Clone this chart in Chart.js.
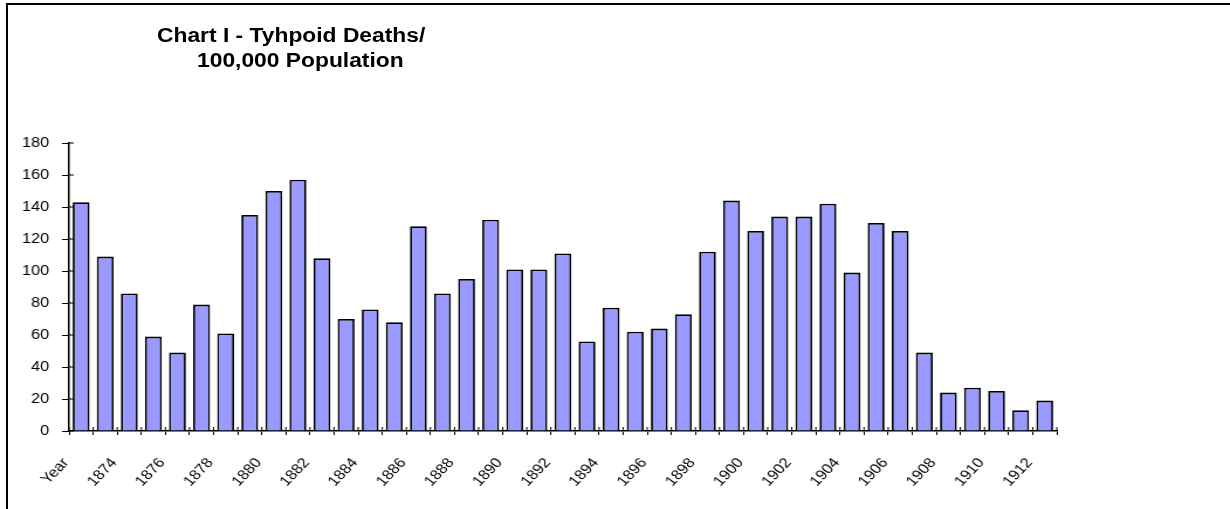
<!DOCTYPE html>
<html>
<head>
<meta charset="utf-8">
<script src="https://cdn.jsdelivr.net/npm/chart.js@4"></script>
<style>
  body { margin: 0; background: #fff; overflow: hidden; }
  #wrap { position: relative; width: 1230px; height: 509px; overflow: hidden; }
  /* the original picture is stretched sideways, so the chart is drawn narrow and widened */
  #stretch { position: absolute; left: 0; top: 0; width: 1051px; height: 509px;
             transform: scaleX(1.1703); transform-origin: 0 0; }
  #frame { position: absolute; left: 6px; top: 3px; width: 1240px; height: 520px;
           border-left: 2px solid #000; border-top: 2px solid #000; }
  .title { position: absolute; white-space: nowrap; transform: scaleX(1.17); transform-origin: 0 0;
           font: bold 19.5px "Liberation Sans", Arial, sans-serif; color: #000; }
</style>
</head>
<body>
<div id="wrap">
  <div id="stretch"><canvas id="myChart" width="1051" height="509"></canvas></div>
  <div id="frame"></div>
  <div class="title" style="left:157px; top:24px;">Chart I - Tyhpoid Deaths/</div>
  <div class="title" style="left:197px; top:49px;">100,000 Population</div>
</div>
<script>
var years = ["Year", "1873", "1874", "1875", "1876", "1877", "1878", "1879", "1880", "1881",
             "1882", "1883", "1884", "1885", "1886", "1887", "1888", "1889", "1890", "1891",
             "1892", "1893", "1894", "1895", "1896", "1897", "1898", "1899", "1900", "1901",
             "1902", "1903", "1904", "1905", "1906", "1907", "1908", "1909", "1910", "1911", "1912"];

var deaths = [143, 109, 86, 59, 49, 79, 61, 135, 150, 157,
              108, 70, 76, 68, 128, 86, 95, 132, 101, 101,
              111, 56, 77, 62, 64, 73, 112, 144, 125, 134,
              134, 142, 99, 130, 125, 49, 24, 27, 25, 13, 19];

var yTicks = [0, 20, 40, 60, 80, 100, 120, 140, 160, 180];

// short tick stubs on the inner side of both axes
var innerTicks = {
    id: 'innerTicks',
    afterDraw: function(chart) {
        var c = chart.ctx, x = chart.scales.x, y = chart.scales.y;
        c.save();
        c.strokeStyle = '#000';
        c.lineWidth = 1;
        c.beginPath();
        yTicks.forEach(function(v) {
            var py = y.getPixelForValue(v);
            c.moveTo(x.left, py); c.lineTo(x.left + 4, py);
        });
        for (var i = 0; i <= years.length; i++) {
            var px = x.getPixelForValue(i - 0.5);
            c.moveTo(px, y.bottom); c.lineTo(px, y.bottom - 4);
        }
        c.stroke();
        c.restore();
    }
};

var ctx = document.getElementById("myChart").getContext('2d');

var myChart = new Chart(ctx, {
    type: 'bar',
    data: {
        labels: years,
        datasets: [{
            label: 'Deaths',
            data: deaths,
            backgroundColor: '#9999FF',
            borderColor: '#000',
            borderWidth: 1.8,
            barPercentage: 0.7,
            categoryPercentage: 1
        }]
    },
    plugins: [innerTicks],
    options: {
        responsive: false,
        animation: false,
        layout: { padding: { left: 18, right: 148, top: 143, bottom: 0 } },
        plugins: { legend: { display: false }, tooltip: { enabled: false } },
        scales: {
            x: {
                afterFit: function(s) { s.paddingLeft = 0; s.paddingRight = 0; s.height = 78; },
                grid: { display: true, drawOnChartArea: false, color: '#000', tickLength: 4, lineWidth: 1 },
                border: { color: '#000', width: 1.5 },
                ticks: {
                    autoSkip: false, minRotation: 50, maxRotation: 50, padding: 20, labelOffset: -13,
                    color: '#000', font: { family: 'Liberation Sans', size: 14 },
                    callback: function(v, i) { return i % 2 === 0 ? years[i] : ''; }
                }
            },
            y: {
                min: 0, max: 180,
                afterFit: function(s) { s.width = 41; },
                afterBuildTicks: function(s) { s.ticks = yTicks.map(function(v) { return { value: v }; }); },
                grid: { display: true, drawOnChartArea: false, color: '#000', tickLength: 6, lineWidth: 1 },
                border: { color: '#000', width: 1.5 },
                ticks: { color: '#000', padding: 11, font: { family: 'Liberation Sans', size: 14 } }
            }
        }
    }
});
</script>
</body>
</html>
